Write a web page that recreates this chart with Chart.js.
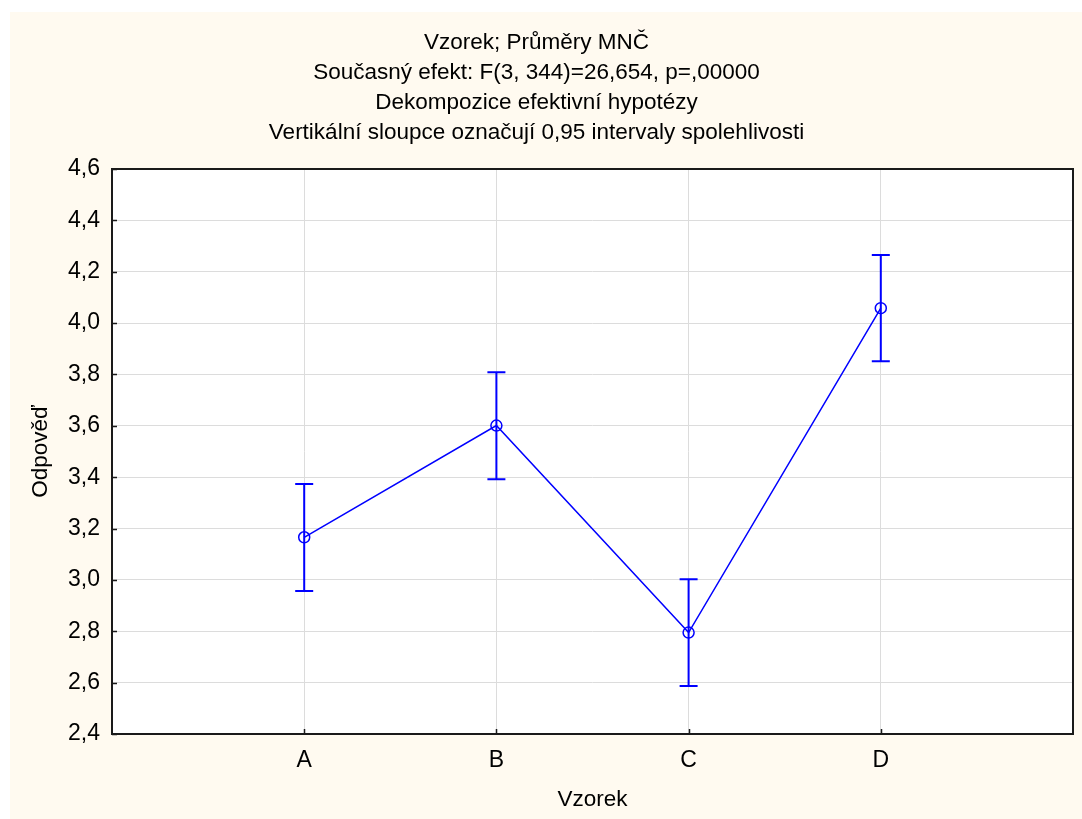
<!DOCTYPE html>
<html>
<head>
<meta charset="utf-8">
<script src="https://cdn.jsdelivr.net/npm/chart.js@4"></script>
<style>
  html, body { margin: 0; padding: 0; background: #ffffff; }
  #wrap { position: relative; width: 1082px; height: 819px; }
</style>
</head>
<body>
<div id="wrap"><canvas id="c" width="1082" height="819"></canvas></div>
<script>
const categories = ['A', 'B', 'C', 'D'];
const means = [3.166, 3.601, 2.795, 4.058];
const lowerCI = [2.957, 3.392, 2.587, 3.851];
const upperCI = [3.373, 3.809, 3.003, 4.265];
const yTicks = [2.4, 2.6, 2.8, 3.0, 3.2, 3.4, 3.6, 3.8, 4.0, 4.2, 4.4, 4.6];
const titleLines = [
  'Vzorek; Průměry MNČ',
  'Současný efekt: F(3, 344)=26,654, p=,00000',
  'Dekompozice efektivní hypotézy',
  'Vertikální sloupce označují 0,95 intervaly spolehlivosti'
];
const xTitle = 'Vzorek';
const yTitle = 'Odpověď';

const FONT = 'Liberation Sans, Arial, sans-serif';
const BLUE = '#0000ff';

const bgPlugin = {
  id: 'bg',
  beforeDraw(chart) {
    const ctx = chart.ctx;
    const a = chart.chartArea;
    ctx.save();
    ctx.fillStyle = '#ffffff';
    ctx.fillRect(0, 0, chart.width, chart.height);
    ctx.fillStyle = '#fffaf0';
    ctx.fillRect(10, 12, chart.width - 10, chart.height - 12);
    ctx.fillStyle = '#ffffff';
    ctx.fillRect(a.left, a.top, a.right - a.left, a.bottom - a.top);
    ctx.restore();
  },
  afterDraw(chart) {
    const ctx = chart.ctx;
    const a = chart.chartArea;
    const xs = chart.scales.x, ys = chart.scales.y;
    ctx.save();
    ctx.strokeStyle = '#1a1a1a';
    ctx.lineWidth = 2;
    ctx.strokeRect(a.left, a.top, a.right - a.left, a.bottom - a.top);
    ctx.lineWidth = 1.5;
    ctx.beginPath();
    ys.ticks.forEach(t => {
      const y = Math.round(ys.getPixelForValue(t.value)) + 0.5;
      ctx.moveTo(a.left, y); ctx.lineTo(a.left + 5, y);
    });
    xs.ticks.forEach(t => {
      const x = Math.round(xs.getPixelForValue(t.value)) + 0.5;
      ctx.moveTo(x, a.bottom); ctx.lineTo(x, a.bottom - 5);
    });
    ctx.stroke();
    ctx.restore();
  }
};

const errorBars = {
  id: 'errorBars',
  afterDatasetsDraw(chart) {
    const ctx = chart.ctx;
    const xs = chart.scales.x, ys = chart.scales.y;
    ctx.save();
    ctx.strokeStyle = BLUE;
    ctx.lineWidth = 2;
    categories.forEach((c, i) => {
      const x = xs.getPixelForValue(i + 1);
      const yl = ys.getPixelForValue(lowerCI[i]);
      const yu = ys.getPixelForValue(upperCI[i]);
      ctx.beginPath();
      ctx.moveTo(x, yl); ctx.lineTo(x, yu);
      ctx.moveTo(x - 9, yl); ctx.lineTo(x + 9, yl);
      ctx.moveTo(x - 9, yu); ctx.lineTo(x + 9, yu);
      ctx.stroke();
    });
    ctx.restore();
  }
};

new Chart(document.getElementById('c'), {
  type: 'line',
  data: {
    datasets: [{
      data: means.map((m, i) => ({ x: i + 1, y: m })),
      borderColor: BLUE,
      borderWidth: 1.5,
      pointRadius: 5.5,
      pointBorderWidth: 1.5,
      pointBorderColor: BLUE,
      pointBackgroundColor: 'rgba(0,0,0,0)',
      pointStyle: 'circle',
      tension: 0
    }]
  },
  options: {
    responsive: false,
    animation: false,
    events: [],
    layout: { padding: { left: 0, top: 0, right: 9, bottom: 0 } },
    plugins: {
      legend: { display: false },
      tooltip: { enabled: false },
      title: {
        display: true,
        text: titleLines,
        color: '#000000',
        font: { family: FONT, size: 22.5, weight: 'normal', lineHeight: 30 / 22.5 },
        padding: { top: 28, bottom: 21 }
      }
    },
    scales: {
      x: {
        type: 'linear',
        min: 0,
        max: 5,
        afterFit(scale) { scale.height = 85; },
        afterBuildTicks(scale) {
          scale.ticks = [1, 2, 3, 4].map(v => ({ value: v }));
        },
        ticks: {
          color: '#000000',
          font: { family: FONT, size: 23 },
          padding: 13,
          maxRotation: 0,
          autoSkip: false,
          callback: (v) => (v >= 1 && v <= categories.length ? categories[v - 1] : '')
        },
        grid: {
          color: '#dcdcdc',
          lineWidth: 1,
          drawTicks: false
        },
        border: { display: false },
        title: {
          display: true,
          text: xTitle,
          color: '#000000',
          font: { family: FONT, size: 22.5 },
          padding: { top: 0, bottom: 6 }
        }
      },
      y: {
        type: 'linear',
        min: 2.4,
        max: 4.6,
        afterFit(scale) { scale.width = 112; },
        afterBuildTicks(scale) {
          scale.ticks = yTicks.map(v => ({ value: v }));
        },
        ticks: {
          color: '#000000',
          font: { family: FONT, size: 23 },
          padding: 12,
          callback: (v) => v.toFixed(1).replace('.', ',')
        },
        grid: {
          color: '#dcdcdc',
          lineWidth: 1,
          drawTicks: false
        },
        border: { display: false },
        title: {
          display: true,
          text: yTitle,
          color: '#000000',
          font: { family: FONT, size: 22.5 },
          padding: { top: 27, bottom: 0 }
        }
      }
    }
  },
  plugins: [bgPlugin, errorBars]
});
</script>
</body>
</html>
